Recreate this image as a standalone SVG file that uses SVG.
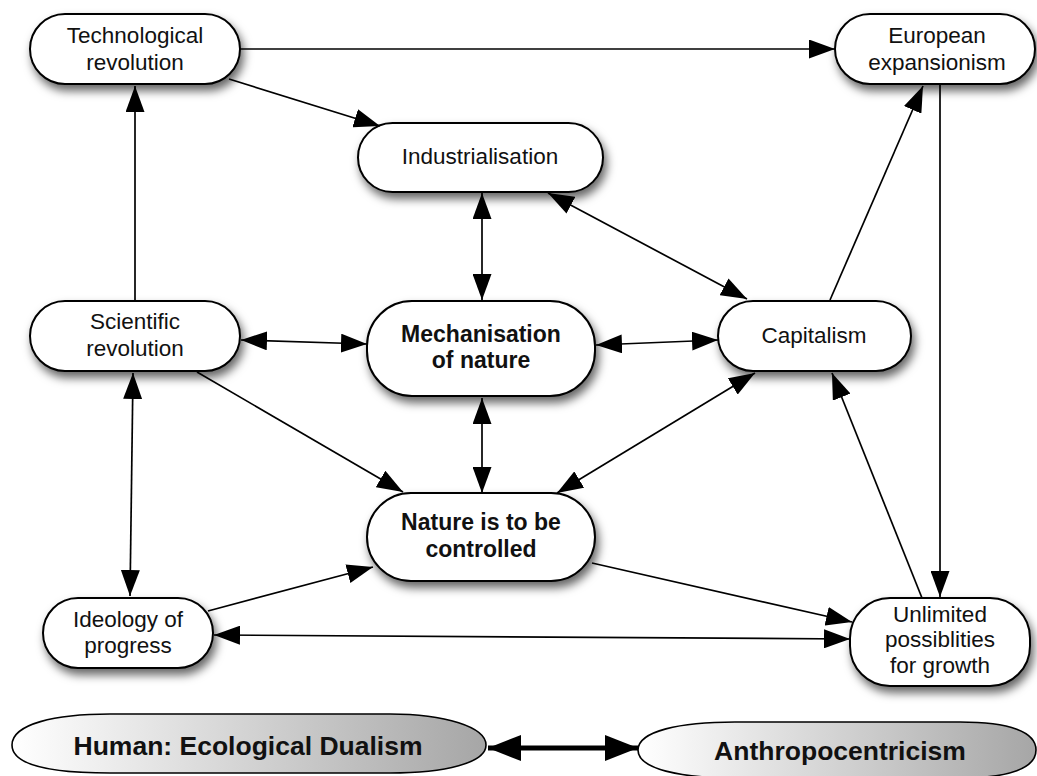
<svg xmlns="http://www.w3.org/2000/svg" width="1037" height="776" viewBox="0 0 1037 776">
  <defs>
    <filter id="shadow" x="-20%" y="-30%" width="140%" height="180%">
      <feDropShadow dx="3" dy="6" stdDeviation="5" flood-color="#000" flood-opacity="0.6"/>
    </filter>
    <linearGradient id="grey" x1="0" y1="0" x2="1" y2="0">
      <stop offset="0" stop-color="#ffffff"/>
      <stop offset="1" stop-color="#a6a6a6"/>
    </linearGradient>
    <marker id="head" markerUnits="userSpaceOnUse" markerWidth="26" markerHeight="19" refX="26" refY="9.5" orient="auto-start-reverse" viewBox="0 0 26 19">
      <path d="M0,0 L26,9.5 L0,19 Z" fill="#000"/>
    </marker>
    <marker id="bighead" markerUnits="userSpaceOnUse" markerWidth="33" markerHeight="26" refX="33" refY="13" orient="auto-start-reverse" viewBox="0 0 33 26">
      <path d="M0,0 L33,13 L0,26 Z" fill="#000"/>
    </marker>
  </defs>
  <style>
    .box { fill: #fff; stroke: #000; stroke-width: 2; filter: url(#shadow); }
    .oval { fill: url(#grey); stroke: #000; stroke-width: 1.6; }
    .lbl { font-family: "Liberation Sans", Arial, sans-serif; font-size: 22.5px; fill: #111; text-anchor: middle; }
    .bold { font-weight: bold; font-size: 23px; }
    .big { font-family: "Liberation Sans", Arial, sans-serif; font-size: 26.5px; font-weight: bold; fill: #111; text-anchor: middle; }
    .edge { fill: none; stroke: #000; stroke-width: 1.7; marker-end: url(#head); }
    .both { marker-start: url(#head); }
  </style>
  <rect width="1037" height="776" fill="#fff"/>

  <g id="tech">
    <rect class="box" x="30" y="14" width="210" height="70" rx="35"/>
    <text class="lbl" x="135" y="43">Technological</text>
    <text class="lbl" x="135" y="70">revolution</text>
  </g>
  <g id="european">
    <rect class="box" x="835" y="14" width="200" height="70" rx="35"/>
    <text class="lbl" x="937" y="43">European</text>
    <text class="lbl" x="937" y="70">expansionism</text>
  </g>
  <g id="industrialisation">
    <rect class="box" x="358" y="123" width="245" height="69" rx="34.5"/>
    <text class="lbl" x="480" y="164">Industrialisation</text>
  </g>
  <g id="scientific">
    <rect class="box" x="30" y="301" width="210" height="70" rx="35"/>
    <text class="lbl" x="135" y="329">Scientific</text>
    <text class="lbl" x="135" y="356">revolution</text>
  </g>
  <g id="mechanisation">
    <rect class="box" x="367" y="301" width="228" height="95" rx="45"/>
    <text class="lbl bold" x="481" y="342">Mechanisation</text>
    <text class="lbl bold" x="481" y="368">of nature</text>
  </g>
  <g id="capitalism">
    <rect class="box" x="718" y="301" width="193" height="70" rx="35"/>
    <text class="lbl" x="814" y="343">Capitalism</text>
  </g>
  <g id="controlled">
    <rect class="box" x="367" y="493" width="228" height="88" rx="44"/>
    <text class="lbl bold" x="481" y="530">Nature is to be</text>
    <text class="lbl bold" x="481" y="557">controlled</text>
  </g>
  <g id="ideology">
    <rect class="box" x="43" y="598" width="170" height="70" rx="35"/>
    <text class="lbl" x="128" y="627">Ideology of</text>
    <text class="lbl" x="128" y="653">progress</text>
  </g>
  <g id="unlimited">
    <rect class="box" x="850" y="598" width="180" height="88" rx="40"/>
    <text class="lbl" x="940" y="622">Unlimited</text>
    <text class="lbl" x="940" y="647">possiblities</text>
    <text class="lbl" x="940" y="673">for growth</text>
  </g>
  <g id="dualism">
    <path class="oval" d="M12,745 C12,724 55,714 110,714 L390,714 C445,714 486,727 486,745 C486,763 445,773 390,773 L110,773 C55,773 12,766 12,745 Z"/>
    <text class="big" x="248" y="755">Human: Ecological Dualism</text>
  </g>
  <g id="anthropocentricism">
    <path class="oval" d="M638,750 C638,731 680,722 735,722 L960,722 C1010,722 1036,732 1036,750 C1036,768 1010,778 960,778 L735,778 C680,778 638,769 638,750 Z"/>
    <text class="big" x="840" y="760">Anthropocentricism</text>
  </g>

  <g id="connectors">
    <line class="edge" x1="240" y1="49" x2="835" y2="49"/>
    <line class="edge" x1="229" y1="79" x2="380" y2="126"/>
    <line class="edge" x1="135" y1="301" x2="135" y2="86"/>
    <line class="edge both" x1="482" y1="193" x2="482" y2="300"/>
    <line class="edge both" x1="548" y1="193" x2="747" y2="299"/>
    <line class="edge both" x1="241" y1="340" x2="367" y2="344"/>
    <line class="edge both" x1="596" y1="345" x2="718" y2="340"/>
    <line class="edge both" x1="482" y1="398" x2="482" y2="493"/>
    <line class="edge both" x1="755" y1="373" x2="557" y2="493"/>
    <line class="edge" x1="197" y1="372" x2="403" y2="492"/>
    <line class="edge both" x1="133" y1="373" x2="130" y2="596"/>
    <line class="edge" x1="208" y1="611" x2="373" y2="567"/>
    <line class="edge both" x1="214" y1="635" x2="850" y2="639"/>
    <line class="edge" x1="592" y1="563" x2="852" y2="622"/>
    <line class="edge" x1="830" y1="300" x2="923" y2="86"/>
    <line class="edge" x1="940" y1="84" x2="940" y2="597"/>
    <line class="edge" x1="922" y1="598" x2="832" y2="373"/>
    <line fill="none" stroke="#000" stroke-width="5" marker-start="url(#bighead)" marker-end="url(#bighead)" x1="488" y1="748" x2="638" y2="748"/>
  </g>
</svg>
